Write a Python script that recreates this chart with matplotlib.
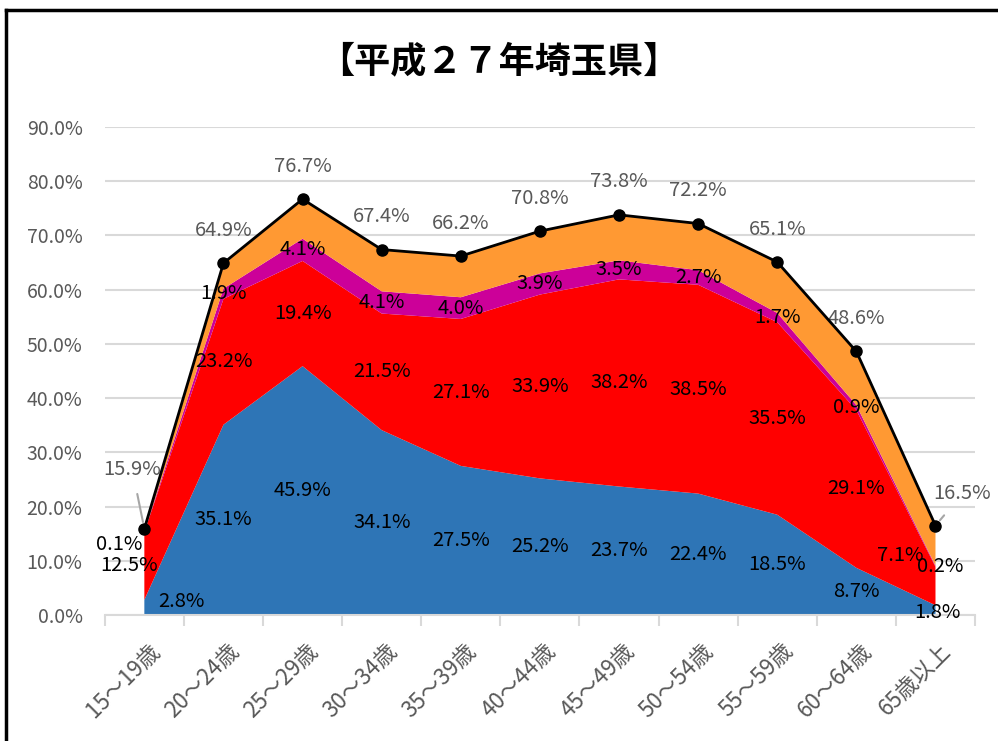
import matplotlib
matplotlib.use("Agg")
import matplotlib.pyplot as plt
import numpy as np

plt.rcParams['font.family'] = ['Noto Sans CJK JP', 'DejaVu Sans']

ages = ['15～19歳', '20～24歳', '25～29歳', '30～34歳', '35～39歳', '40～44歳',
        '45～49歳', '50～54歳', '55～59歳', '60～64歳', '65歳以上']
blue = [2.8, 35.1, 45.9, 34.1, 27.5, 25.2, 23.7, 22.4, 18.5, 8.7, 1.8]
red = [12.5, 23.2, 19.4, 21.5, 27.1, 33.9, 38.2, 38.5, 35.5, 29.1, 7.1]
magenta = [0.1, 1.9, 4.1, 4.1, 4.0, 3.9, 3.5, 2.7, 1.7, 0.9, 0.2]
total = [15.9, 64.9, 76.7, 67.4, 66.2, 70.8, 73.8, 72.2, 65.1, 48.6, 16.5]

x = np.arange(len(ages))
b = np.array(blue)
r = np.array(red)
m = np.array(magenta)
t = np.array(total)
orange = t - b - r - m

fig = plt.figure(figsize=(9.98, 7.41), dpi=100)
ax = fig.add_axes([0.105, 0.170, 0.872, 0.6586])

ax.stackplot(x, b, r, m, orange,
             colors=['#2E75B6', '#FF0000', '#CC0099', '#FF9933'], linewidth=0)
ax.plot(x, t, color='black', lw=2, marker='o', ms=8, zorder=5)

ax.set_xlim(-0.5, 10.5)
ax.set_ylim(0, 90)
ax.set_yticks(np.arange(0, 91, 10))
ax.set_yticklabels([f'{v:.1f}%' for v in range(0, 91, 10)], color='#595959', fontsize=14)
ax.yaxis.grid(True, color='#D9D9D9', lw=1.5)
ax.set_axisbelow(True)
ax.tick_params(axis='y', length=0, pad=16)
for s in ['top', 'right', 'left']:
    ax.spines[s].set_visible(False)
ax.spines['bottom'].set_color('#D9D9D9')
ax.spines['bottom'].set_linewidth(1.5)

ax.set_xticks(np.arange(-0.5, 11, 1))
ax.set_xticklabels([])
ax.tick_params(axis='x', length=8, color='#D9D9D9', width=1.5)
for i, lab in enumerate(ages):
    ax.annotate(lab, (i, 0), xytext=(4, -24), textcoords='offset pixels',
                rotation=45, ha='right', va='top', rotation_mode='anchor',
                color='#595959', fontsize=16)

fs = 14.5
# blue labels
boff = {0: (37, 6), 10: (2, -2)}
for i in x:
    ax.annotate(f'{blue[i]}%', (i, b[i] / 2), xytext=boff.get(i, (0, 0)),
                textcoords='offset pixels', ha='center', va='center', fontsize=fs)
# red labels
roff = {0: (-15, 0), 10: (-35, 31)}
for i in x:
    ax.annotate(f'{red[i]}%', (i, b[i] + r[i] / 2), xytext=roff.get(i, (0, 0)),
                textcoords='offset pixels', ha='center', va='center', fontsize=fs)
# magenta labels
moff = {0: (-25, -13), 10: (5, 0)}
for i in x:
    ax.annotate(f'{magenta[i]}%', (i, b[i] + r[i] + m[i] / 2), xytext=moff.get(i, (0, 0)),
                textcoords='offset pixels', ha='center', va='center', fontsize=fs)
# total labels
toff = {0: (-12, 59), 10: (27, 32)}
for i in x:
    if i in toff:
        ax.annotate(f'{total[i]}%', (i, t[i]), xytext=toff[i],
                    textcoords='offset pixels', ha='center', va='center',
                    fontsize=fs, color='#595959',
                    arrowprops=dict(arrowstyle='-', color='#A6A6A6', lw=1.5,
                                    shrinkA=8, shrinkB=5))
    else:
        ax.annotate(f'{total[i]}%', (i, t[i]), xytext=(0, 33),
                    textcoords='offset pixels', ha='center', va='center',
                    fontsize=fs, color='#595959')

fig.text(0.5, 1 - 62 / 741, '【平成２７年埼玉県】', ha='center', va='center',
         fontsize=26, fontweight='bold')

# chart frame
fig.add_artist(plt.Line2D([6 / 998, 6 / 998], [0, 1 - 10 / 741], color='black', lw=2.5))
fig.add_artist(plt.Line2D([6 / 998, 1], [1 - 10 / 741, 1 - 10 / 741], color='black', lw=2.5))

fig.savefig('out.png', dpi=100)
